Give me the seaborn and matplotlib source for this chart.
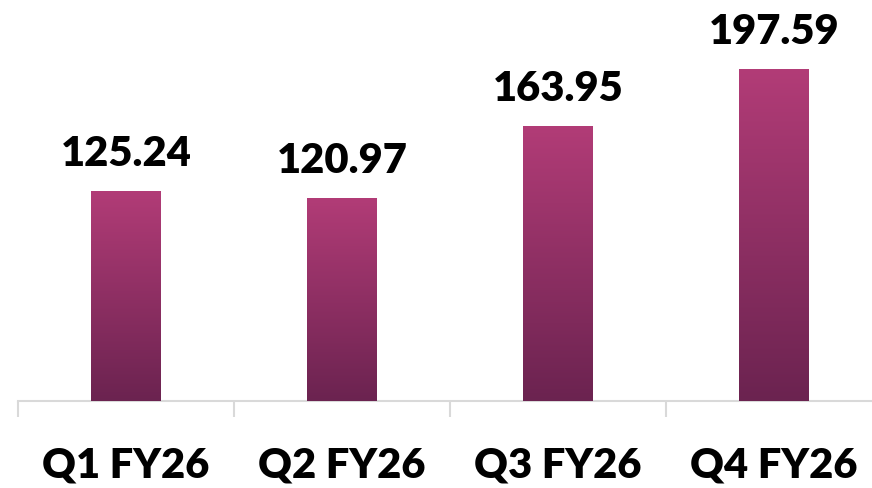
import matplotlib
matplotlib.use("Agg")
import matplotlib.pyplot as plt
import numpy as np
import pandas as pd
import seaborn as sns
from matplotlib.colors import LinearSegmentedColormap


quarters = ["Q1 FY26", "Q2 FY26", "Q3 FY26", "Q4 FY26"]
values = [125.24, 120.97, 163.95, 197.59]
value_labels = ["125.24", "120.97", "163.95", "197.59"]

TOP_COLOR = "#B23C77"
BOTTOM_COLOR = "#6B2350"
AXIS_COLOR = "#D9D9D9"


def main():
    df = pd.DataFrame({"quarter": quarters, "value": values})

    sns.set_style("white")
    plt.rcParams["font.family"] = ["Lato", "DejaVu Sans"]

    fig = plt.figure(figsize=(8.72, 4.88), dpi=100)
    ax = fig.add_axes([18 / 872, 87 / 488, 864 / 872, 401 / 488])

    sns.barplot(data=df, x="quarter", y="value", color=BOTTOM_COLOR,
                width=0.32, ax=ax, zorder=2)

    # gradient fill on each bar, pink at top to dark plum at bottom
    cmap = LinearSegmentedColormap.from_list("plum", [BOTTOM_COLOR, TOP_COLOR])
    grad = np.linspace(0, 1, 256).reshape(-1, 1)
    for patch in ax.patches:
        x0, y0 = patch.get_x(), patch.get_y()
        w, h = patch.get_width(), patch.get_height()
        img = ax.imshow(grad, cmap=cmap, origin="lower", aspect="auto",
                        extent=[x0, x0 + w, y0, y0 + h], zorder=3)
        img.set_clip_path(patch)

    for patch, label in zip(ax.patches, value_labels):
        ax.annotate(label, (patch.get_x() + patch.get_width() / 2, patch.get_height()),
                    xytext=(0, 13), textcoords="offset points",
                    ha="center", va="bottom", fontsize=30, fontweight="heavy",
                    color="black")

    ax.set_xlim(-0.5, 3.5)
    ax.set_ylim(0, 401 / 1.68)

    for side in ["top", "right", "left"]:
        ax.spines[side].set_visible(False)
    ax.spines["bottom"].set_color(AXIS_COLOR)
    ax.spines["bottom"].set_linewidth(1.5)

    ax.set_yticks([])
    ax.set_xticks(range(len(quarters)))
    ax.set_xticklabels(quarters, fontsize=30, fontweight="heavy", color="black")
    ax.set_xticks([-0.5, 0.5, 1.5, 2.5, 3.5], minor=True)
    ax.tick_params(axis="x", which="major", length=0, pad=33, bottom=True)
    ax.tick_params(axis="x", which="minor", length=11.5, width=1.5,
                   color=AXIS_COLOR, direction="out", bottom=True)
    ax.set_xlabel("")
    ax.set_ylabel("")

    fig.savefig("out.png", dpi=100)
    plt.close(fig)


if __name__ == "__main__":
    main()
